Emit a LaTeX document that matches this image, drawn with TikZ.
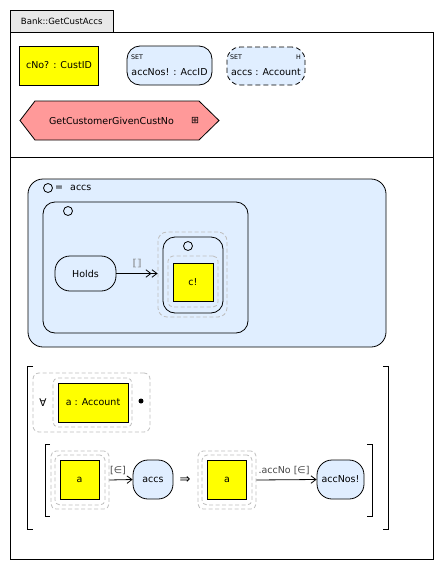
\documentclass[tikz,border=0pt]{standalone}
\usepackage{fontspec}
\setmainfont{DejaVu Sans}
\usetikzlibrary{arrows.meta}

\definecolor{yfill}{RGB}{255,255,0}
\definecolor{bfill}{RGB}{224,238,255}
\definecolor{rfill}{RGB}{255,153,153}
\definecolor{tabfill}{RGB}{232,232,232}
\definecolor{gline}{RGB}{190,190,190}
\definecolor{lbl}{RGB}{70,70,70}
\definecolor{bagl}{RGB}{120,120,120}

\newcommand\txtsz{\fontsize{9.5pt}{11pt}\selectfont}
\newcommand\tabsz{\fontsize{8.6pt}{10pt}\selectfont}
\newcommand\tinysz{\fontsize{6.3pt}{7pt}\selectfont}

\tikzset{
  box/.style={draw, line width=0.8pt, inner sep=0pt, font=\txtsz},
  ybox/.style={box, fill=yfill},
  bbox/.style={box, fill=bfill, rounded corners=#1},
  bbox/.default=13pt,
  gbox/.style={draw=gline, line width=0.8pt, dash pattern=on 4pt off 2.5pt,
    rounded corners=#1, inner sep=0pt},
  gbox/.default=5pt,
  txt/.style={inner sep=0pt, font=\txtsz},
  tiny/.style={inner sep=0pt, font=\tinysz},
  marker/.style={draw, line width=0.8pt, circle, inner sep=0pt, minimum size=9pt},
  flow/.style={line width=0.8pt, -{Straight Barb[length=5pt,width=7.5pt]}},
  dflow/.style={line width=0.8pt,
    -{Straight Barb[length=5pt,width=7.5pt] Straight Barb[length=5pt,width=7.5pt]}},
  brk/.style={line width=0.8pt},
}

\begin{document}
\begin{tikzpicture}[x=1pt,y=-1pt]
\useasboundingbox (0,0) rectangle (444,570);

% schema frame with its name tab
\node[box, fill=tabfill, minimum width=102.5pt, minimum height=21.5pt, font=\tabsz]
  (tab) at (61.75,21.25) {Bank::GetCustAccs};
\node[box, minimum width=422.5pt, minimum height=527.5pt] (frame) at (221.75,295.75) {};
\draw[line width=0.8pt] (frame.west |- 0,157) -- (frame.east |- 0,157);

% declarations
\node[ybox, minimum width=79pt, minimum height=39pt] (cno) at (59,65.5) {cNo? : CustID};

\node[bbox, minimum width=85pt, minimum height=39pt] (accnos) at (169.5,65.5) {};
\node[tiny, anchor=west] (accnosset) at (131,57) {SET};
\node[txt] (accnoslbl) at (169.5,72) {accNos! : AccID};

\node[bbox, dashed, dash pattern=on 5pt off 3pt, minimum width=78pt, minimum height=38pt]
  (accs) at (266,66) {};
\node[tiny, anchor=west] (accsset) at (230,57) {SET};
\node[tiny] (accsh) at (298.5,57) {H};
\node[txt] (accslbl) at (266,72) {accs : Account};

% included schema
\draw[line width=0.8pt, fill=rfill]
  (20,120.5) -- (35,101) -- (199,101) -- (219,120.5) -- (199,140) -- (35,140) -- cycle;
\node[txt] (incl) at (111.5,120.5) {GetCustomerGivenCustNo};
\node[txt] (expand) at (195,120.5) {⊞};

% predicate: the set comprehension defining accs
\node[bbox=15pt, minimum width=358pt, minimum height=168pt] (outer) at (207,263) {};
\node[marker] (outmark) at (48,188) {};
\node[txt] (eq) at (59,188) {=};
\node[txt, anchor=west] (eqaccs) at (70,188) {accs};

\node[bbox=12pt, minimum width=205pt, minimum height=131pt] (inner) at (145.5,267.5) {};
\node[marker] (innmark) at (68,211) {};

\node[bbox=15pt, minimum width=61pt, minimum height=35pt] (holds) at (85.5,273.5) {Holds};

\node[gbox=9pt, minimum width=69pt, minimum height=85pt] (gout) at (192.5,274.5) {};
\node[box, rounded corners=12pt, minimum width=60pt, minimum height=76pt] (cbox) at (193,275) {};
\node[marker] (cmark) at (188,246) {};
\node[gbox, minimum width=50pt, minimum height=51pt] (gin) at (193,281.5) {};
\node[ybox, minimum width=40pt, minimum height=38pt] (c) at (193,282) {c!};

\draw[dflow] (holds.east) -- (holds.east -| gout.west);
\node[txt, text=bagl, font=\fontsize{9.5pt}{10pt}\selectfont] (holdslbl) at (137,264) {⟦⟧};

% quantified predicate
\draw[brk] (33,366) -- (27.5,366) -- (27.5,529) -- (33,529);
\draw[brk] (383,366) -- (388,366) -- (388,529) -- (383,529);

\node[gbox=6pt, minimum width=117pt, minimum height=59pt] (qout) at (91.5,402.5) {};
\node[txt, font=\fontsize{10.5pt}{11pt}\selectfont] (forall) at (43,403) {∀};
\node[gbox, minimum width=79pt, minimum height=49pt] (qin) at (92.5,402.5) {};
\node[ybox, minimum width=70pt, minimum height=39pt] (qa) at (93,402.5) {a : Account};
\node[circle, fill, inner sep=0pt, minimum size=5pt] (qdot) at (141,401) {};

\draw[brk] (50,444) -- (45,444) -- (45,516) -- (50,516);
\draw[brk] (367,444) -- (372,444) -- (372,516) -- (367,516);

\node[gbox, minimum width=58pt, minimum height=58pt] (a1out) at (80,480) {};
\node[gbox, minimum width=50pt, minimum height=50pt] (a1in) at (80,480) {};
\node[ybox, minimum width=39pt, minimum height=39pt] (a1) at (79.5,479.5) {a};
\node[bbox=15pt, minimum width=40pt, minimum height=39pt] (accsnode) at (153,479.5) {accs};
\draw[flow] (a1out.east) -- (accsnode.west);
\node[txt, text=lbl] (mem1) at (118,471) {[∈]};

\node[txt, font=\fontsize{13pt}{14pt}\selectfont] (implies) at (185,480) {⇒};

\node[gbox, minimum width=58pt, minimum height=58pt] (a2out) at (227,480) {};
\node[gbox, minimum width=50pt, minimum height=50pt] (a2in) at (227,480) {};
\node[ybox, minimum width=39pt, minimum height=39pt] (a2) at (227,479.5) {a};
\node[bbox=15pt, minimum width=47pt, minimum height=39pt] (accnosnode) at (340.5,479.5) {accNos!};
\draw[flow] (a2out.east) -- (accnosnode.west);
\node[txt, text=lbl] (mem2) at (284,471) {.accNo [∈]};

\end{tikzpicture}
\end{document}
